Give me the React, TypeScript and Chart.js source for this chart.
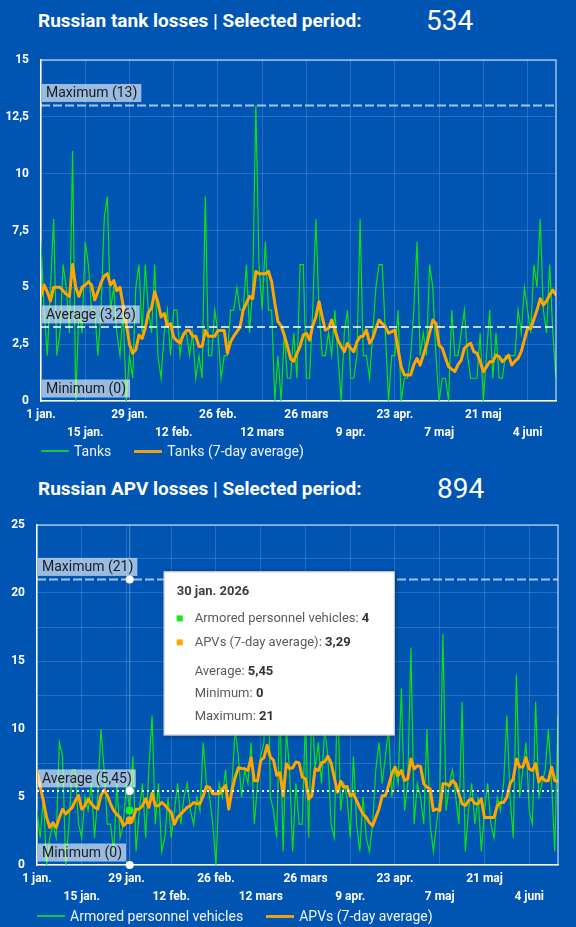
import React, { useEffect, useRef } from 'react';
import { Chart, registerables } from 'chart.js';

Chart.register(...registerables);

const BG = '#0055b3';
const GREEN = '#0fe00f';
const ORANGE = '#ffa500';
const GRID = 'rgba(255,255,255,0.15)';
const FONT = 'Roboto, "Noto Sans", sans-serif';

// x axis: day index from 1 jan. 2026
const xTickDays = [0, 14, 28, 42, 56, 70, 84, 98, 112, 126, 140, 154];
const xTickLabels = ['1 jan.', '15 jan.', '29 jan.', '12 feb.', '26 feb.', '12 mars', '26 mars', '9 apr.', '23 apr.', '7 maj', '21 maj', '4 juni'];

// ---- Tanks ----
const tankDaily = [
  7, 4, 2, 5, 8, 2, 3, 6, 5, 3,
  11, 0, 4, 3, 7, 6, 4, 4, 2, 4,
  8, 9, 4, 5, 3, 2, 4, 0, 2, 1,
  5, 6, 3, 6, 4, 3, 6, 2, 1, 3,
  4, 2, 4, 4, 2, 3, 3, 2, 3, 1,
  2, 1, 9, 2, 2, 4, 3, 1, 2, 2,
  4, 4, 5, 4, 4, 6, 3, 5, 13, 6,
  4, 7, 4, 4, 0, 2, 0, 3, 1, 1,
  3, 1, 6, 6, 1, 1, 4, 8, 4, 2,
  2, 3, 2, 4, 2, 0, 3, 4, 1, 1,
  2, 8, 2, 2, 1, 3, 5, 6, 6, 3,
  0, 2, 2, 4, 0, 1, 1, 2, 4, 7,
  2, 3, 2, 6, 5, 2, 0, 1, 1, 0,
  4, 2, 2, 3, 4, 2, 1, 1, 1, 3,
  0, 2, 4, 1, 3, 1, 1, 2, 2, 2,
  2, 4, 3, 5, 4, 3, 6, 5, 8, 4,
  3, 6, 3, 1,
];
const tankAvg7 = [
  4.6, 5.1, 4.8, 4.4, 5.0, 5.0, 5.0, 4.85, 4.7, 4.6,
  6.0, 5.0, 4.6, 5.0, 5.1, 5.25, 5.1, 4.45, 4.8, 5.2,
  5.5, 5.6, 5.1, 5.3, 4.85, 5.0, 4.2, 3.4, 2.5, 2.1,
  2.25, 2.9, 2.75, 3.2, 3.9, 4.1, 4.8, 4.35, 3.7, 3.85,
  3.3, 3.4, 2.8, 2.65, 2.55, 2.9, 3.1, 3.1, 2.85, 2.85,
  2.4, 2.4, 3.1, 2.85, 2.85, 2.85, 3.1, 3.1, 3.1, 2.1,
  2.6, 2.85, 3.05, 3.25, 4.0, 4.3, 4.6, 4.5, 5.7, 5.6,
  5.6, 5.6, 5.7, 5.25, 4.3, 3.5, 3.3, 2.9, 2.4, 1.85,
  1.75, 2.1, 2.4, 2.9, 2.98, 2.68, 3.3, 3.7, 4.37, 3.7,
  3.12, 3.2, 3.56, 3.12, 2.68, 2.4, 2.17, 2.54, 2.32, 2.17,
  2.6, 2.83, 2.86, 3.12, 2.54, 2.76, 3.2, 3.56, 3.4, 3.27,
  2.98, 3.05, 3.12, 2.3, 1.51, 1.14, 1.14, 1.14, 1.6, 1.87,
  1.58, 2.02, 2.46, 3.0, 3.56, 3.41, 2.46, 2.32, 1.9, 1.51,
  1.4, 1.29, 1.6, 1.8, 2.32, 2.45, 2.54, 2.17, 2.1, 1.73,
  1.29, 1.5, 1.73, 1.73, 2.02, 1.95, 1.73, 1.85, 2.02, 1.58,
  1.75, 1.87, 2.17, 2.7, 3.19, 3.19, 3.6, 4.0, 4.5, 4.22,
  4.4, 4.66, 4.88, 4.66,
];
const tankTotal = 534;
const tankAverage = 3.26;
const tankMin = 0;
const tankMax = 13;
const tankYMax = 15;

// ---- APVs ----
const apvDaily = [
  4, 2, 5, 0, 2, 3, 2, 9, 8, 0,
  3, 7, 7, 3, 2, 5, 4, 6, 2, 5,
  10, 7, 3, 3, 1, 6, 2, 3, 6, 4,
  8, 1, 4, 6, 2, 7, 11, 3, 6, 1,
  2, 5, 2, 4, 6, 3, 5, 6, 4, 3,
  5, 4, 9, 6, 5, 3, 0, 6, 5, 7,
  4, 6, 10, 8, 5, 7, 6, 9, 3, 6,
  8, 9, 21, 5, 4, 2, 12, 1, 10, 7,
  1, 6, 3, 3, 11, 2, 12, 7, 9, 6,
  10, 8, 3, 2, 13, 4, 6, 5, 2, 8,
  3, 1, 5, 2, 1, 3, 7, 9, 6, 8,
  10, 5, 7, 6, 13, 4, 6, 16, 3, 6,
  5, 3, 10, 3, 1, 3, 5, 17, 4, 6,
  7, 5, 3, 12, 1, 4, 6, 3, 5, 1,
  4, 6, 3, 2, 5, 4, 6, 11, 5, 2,
  14, 5, 7, 9, 4, 3, 12, 5, 6, 7,
  10, 6, 1, 11,
];
const apvAvg7 = [
  6.83, 5.8, 4.7, 3.5, 2.76, 3.1, 2.76, 3.5, 4.1, 3.75,
  4.0, 4.24, 4.73, 5.1, 4.1, 4.36, 4.86, 4.5, 4.24, 4.12,
  5.1, 5.52, 5.1, 4.5, 4.0, 3.7, 3.5, 2.9, 3.1, 3.29,
  3.4, 4.1, 4.12, 4.36, 4.86, 4.24, 5.28, 4.36, 4.36, 4.6,
  4.4, 4.12, 3.87, 3.0, 3.5, 3.75, 4.0, 4.24, 4.36, 4.6,
  4.5, 4.5, 5.1, 5.77, 5.7, 5.23, 5.23, 5.23, 5.6, 5.84,
  4.12, 5.47, 6.46, 7.15, 7.1, 7.07, 6.95, 7.89, 6.2, 6.2,
  7.7, 7.9, 8.8, 7.94, 7.7, 6.6, 6.8, 5.1, 7.45, 7.1,
  7.15, 7.57, 7.5, 6.46, 6.34, 4.86, 5.1, 7.07, 6.95, 7.5,
  7.6, 8.0, 7.5, 6.46, 5.35, 6.16, 5.72, 5.77, 5.1, 5.23,
  4.73, 4.2, 3.75, 3.5, 3.13, 2.88, 3.5, 4.12, 5.1, 5.1,
  5.84, 6.7, 7.2, 6.58, 6.95, 6.21, 6.34, 7.8, 7.07, 7.3,
  7.25, 5.97, 5.72, 5.6, 4.0, 4.12, 4.0, 5.97, 5.97, 5.84,
  6.2, 5.97, 5.23, 4.5, 4.36, 4.73, 4.86, 4.5, 4.5, 4.86,
  3.5, 3.5, 3.5, 3.5, 4.36, 4.6, 4.6, 4.98, 5.97, 6.34,
  7.8, 7.2, 7.2, 7.9, 7.07, 6.95, 7.45, 6.1, 6.46, 6.2,
  6.2, 7.2, 6.2, 6.16,
];
const apvTotal = 894;
const apvAverage = 5.45;
const apvMin = 0;
const apvMax = 21;
const apvYMax = 25;

// hovered day in the second chart
const hoverIndex = 29;
const hoverDateLabel = '30 jan. 2026';

const fmt = (v: number) => String(v).replace('.', ',');

const refPlugin = {
  id: 'refLines',
  afterDatasetsDraw(chart: any, _args: any, opts: any) {
    const { ctx, chartArea: a, scales } = chart;
    const ys = scales.y;
    ctx.save();
    ctx.setLineDash([]);
    ctx.strokeStyle = 'rgba(255,255,255,0.62)';
    ctx.lineWidth = 1.5;
    ctx.beginPath();
    ctx.moveTo(a.left, a.top);
    ctx.lineTo(a.right, a.top);
    ctx.lineTo(a.right, a.bottom);
    ctx.stroke();
    for (const l of opts.lines || []) {
      const py = ys.getPixelForValue(l.value);
      if (l.width > 0) {
        ctx.setLineDash(l.dash);
        ctx.strokeStyle = l.color;
        ctx.lineWidth = l.width;
        ctx.beginPath();
        ctx.moveTo(a.left, py);
        ctx.lineTo(a.right, py);
        ctx.stroke();
      }
      ctx.setLineDash([]);
      ctx.font = `14px ${FONT}`;
      const tw = ctx.measureText(l.label).width;
      const bh = 18;
      const bBottom = py - 3.5;
      ctx.fillStyle = 'rgba(255,255,255,0.6)';
      ctx.fillRect(a.left + 1, bBottom - bh, tw + 8, bh);
      ctx.fillStyle = '#1c1c1c';
      ctx.textBaseline = 'middle';
      ctx.textAlign = 'left';
      ctx.fillText(l.label, a.left + 5, bBottom - bh / 2 + 1);
    }
    ctx.restore();
  },
};

const hoverPlugin = {
  id: 'hoverTip',
  beforeDatasetsDraw(chart: any, _args: any, opts: any) {
    if (!opts || !opts.enabled) return;
    const { ctx, chartArea: a, scales } = chart;
    const px = scales.x.getPixelForValue(opts.index);
    ctx.save();
    ctx.strokeStyle = 'rgba(255,255,255,0.3)';
    ctx.lineWidth = 1;
    ctx.beginPath();
    ctx.moveTo(px, a.top);
    ctx.lineTo(px, a.bottom);
    ctx.stroke();
    ctx.restore();
  },
  afterDraw(chart: any, _args: any, opts: any) {
    if (!opts || !opts.enabled) return;
    const { ctx, scales } = chart;
    const xs = scales.x;
    const ys = scales.y;
    const px = xs.getPixelForValue(opts.index);
    const dot = (v: number, color: string) => {
      ctx.beginPath();
      ctx.arc(px, ys.getPixelForValue(v), 4, 0, Math.PI * 2);
      ctx.fillStyle = color;
      ctx.fill();
    };
    ctx.save();
    dot(opts.max, '#ffffff');
    dot(opts.average, '#ffffff');
    dot(opts.min, '#ffffff');
    dot(opts.daily, '#19f219');
    dot(opts.avg7, ORANGE);

    // tooltip box
    const left = px + 34;
    const top = ys.getPixelForValue(opts.max) - 8;
    const rows: [string, string][] = [
      [opts.dailyName + ': ', String(opts.daily)],
      [opts.avgName + ': ', fmt(opts.avg7)],
      ['Average: ', fmt(opts.average)],
      ['Minimum: ', String(opts.min)],
      ['Maximum: ', String(opts.max)],
    ];
    let maxW = 0;
    for (const [a, b] of rows) {
      ctx.font = `13px ${FONT}`;
      const w1 = ctx.measureText(a).width;
      ctx.font = `bold 13px ${FONT}`;
      const w2 = ctx.measureText(b).width;
      maxW = Math.max(maxW, w1 + w2);
    }
    const w = Math.round(31 + maxW + 25);
    const h = 164;
    ctx.save();
    ctx.shadowColor = 'rgba(0,0,0,0.35)';
    ctx.shadowBlur = 6;
    ctx.shadowOffsetX = 1;
    ctx.shadowOffsetY = 1;
    ctx.fillStyle = '#ffffff';
    ctx.fillRect(left, top, w, h);
    ctx.restore();
    ctx.strokeStyle = '#cccccc';
    ctx.lineWidth = 1;
    ctx.strokeRect(left + 0.5, top + 0.5, w - 1, h - 1);

    ctx.textBaseline = 'alphabetic';
    ctx.textAlign = 'left';
    ctx.font = `bold 13px ${FONT}`;
    ctx.fillStyle = '#3d3d3d';
    ctx.fillText(opts.dateLabel, left + 13, top + 24);

    ctx.fillStyle = '#11ee11';
    ctx.fillRect(left + 13, top + 44, 6, 6);
    ctx.fillStyle = ORANGE;
    ctx.fillRect(left + 13, top + 68, 6, 6);

    const baselines = [51, 75, 104, 126, 149];
    rows.forEach(([a, b], i) => {
      ctx.font = `13px ${FONT}`;
      ctx.fillStyle = '#5a5a5a';
      ctx.fillText(a, left + 31, top + baselines[i]);
      const w1 = ctx.measureText(a).width;
      ctx.font = `bold 13px ${FONT}`;
      ctx.fillStyle = '#333333';
      ctx.fillText(b, left + 31 + w1, top + baselines[i]);
    });
    ctx.restore();
  },
};

type ChartProps = {
  top: number;
  height: number;
  daily: number[];
  avg7: number[];
  dailyName: string;
  avgName: string;
  yMax: number;
  labelEvery: number;
  leftWidth: number;
  rightPad: number;
  lines: any[];
  hover?: any;
};

function LineChart(p: ChartProps) {
  const ref = useRef<HTMLCanvasElement>(null);
  useEffect(() => {
    const tickFont = { family: FONT, size: 12, weight: 'bold' as const };
    const chart = new Chart(ref.current as HTMLCanvasElement, {
      type: 'line',
      data: {
        datasets: [
          {
            label: p.avgName,
            data: p.avg7.map((v, i) => ({ x: i, y: v })),
            borderColor: ORANGE,
            borderWidth: 3,
            pointRadius: 0,
            tension: 0,
            order: 1,
            borderJoinStyle: 'round',
            borderCapStyle: 'round',
          },
          {
            label: p.dailyName,
            data: p.daily.map((v, i) => ({ x: i, y: v })),
            borderColor: GREEN,
            borderWidth: 1.2,
            pointRadius: 0,
            tension: 0,
            order: 2,
          },
        ],
      },
      options: {
        animation: false,
        responsive: true,
        maintainAspectRatio: false,
        events: [],
        layout: { padding: { top: 20, right: p.rightPad, left: 0, bottom: 0 } },
        plugins: {
          legend: { display: false },
          tooltip: { enabled: false },
          refLines: { lines: p.lines },
          hoverTip: p.hover || { enabled: false },
        } as any,
        scales: {
          x: {
            type: 'linear',
            min: 0,
            max: p.daily.length - 1,
            afterBuildTicks: (s: any) => {
              s.ticks = xTickDays.map((v) => ({ value: v }));
            },
            afterFit: (s: any) => {
              s.height = 44;
            },
            ticks: {
              autoSkip: false,
              maxRotation: 0,
              minRotation: 0,
              padding: 5,
              color: '#ffffff',
              font: { ...tickFont, lineHeight: 1.5 },
              callback: (v: any, i: number) => {
                const lbl = xTickLabels[xTickDays.indexOf(Number(v))] || '';
                return i % 2 === 0 ? [lbl, ''] : ['', lbl];
              },
            },
            grid: { color: GRID, drawTicks: false, lineWidth: 1 },
            border: { color: '#ffffff', width: 1.5 },
          },
          y: {
            min: 0,
            max: p.yMax,
            afterFit: (s: any) => {
              s.width = p.leftWidth;
            },
            ticks: {
              stepSize: 2.5,
              padding: 12,
              color: '#ffffff',
              font: tickFont,
              callback: (v: any) => (Number(v) % p.labelEvery === 0 ? fmt(Number(v)) : ''),
            },
            grid: { color: GRID, drawTicks: false, lineWidth: 1 },
            border: { color: '#ffffff', width: 1.5 },
          },
        },
      } as any,
      plugins: [refPlugin, hoverPlugin],
    });
    return () => chart.destroy();
  }, []);
  return (
    <div style={{ position: 'absolute', left: 0, top: p.top, width: 576, height: p.height }}>
      <canvas ref={ref} style={{ display: 'block' }} />
    </div>
  );
}

function Legend({ top, left, a, b }: { top: number; left: number; a: string; b: string }) {
  return (
    <div
      style={{
        position: 'absolute',
        top,
        left,
        display: 'flex',
        alignItems: 'center',
        height: 16,
        fontFamily: FONT,
        fontSize: 14,
        lineHeight: '16px',
        color: '#eef3fb',
        whiteSpace: 'nowrap',
      }}
    >
      <span style={{ display: 'inline-block', width: 28, height: 2, background: '#13c64a', marginRight: 5 }} />
      <span>{a}</span>
      <span style={{ display: 'inline-block', width: 28, height: 3, background: '#eaa21a', marginLeft: 23, marginRight: 5 }} />
      <span>{b}</span>
    </div>
  );
}

function Heading({ text, total, top, totalLeft }: { text: string; total: number; top: number; totalLeft: number }) {
  return (
    <>
      <div
        style={{
          position: 'absolute',
          left: 38,
          top,
          fontFamily: FONT,
          fontWeight: 700,
          fontSize: 19,
          lineHeight: '22px',
          color: '#ffffff',
          whiteSpace: 'nowrap',
        }}
      >
        {text}
      </div>
      <div
        style={{
          position: 'absolute',
          left: totalLeft,
          top: top - 5,
          fontFamily: FONT,
          fontWeight: 400,
          fontSize: 28,
          lineHeight: '32px',
          color: '#ffffff',
        }}
      >
        {total}
      </div>
    </>
  );
}

export default function App() {
  const tankLines = [
    { value: tankMax, label: `Maximum (${tankMax})`, color: 'rgba(255,255,255,0.65)', dash: [9, 3], width: 2 },
    { value: tankAverage, label: `Average (${fmt(tankAverage)})`, color: '#ffffff', dash: [8, 4], width: 1.5 },
    { value: tankMin, label: `Minimum (${tankMin})`, color: '#ffffff', dash: [], width: 0 },
  ];
  const apvLines = [
    { value: apvMax, label: `Maximum (${apvMax})`, color: 'rgba(255,255,255,0.65)', dash: [9, 3], width: 2 },
    { value: apvAverage, label: `Average (${fmt(apvAverage)})`, color: '#ffffff', dash: [2, 3], width: 2 },
    { value: apvMin, label: `Minimum (${apvMin})`, color: '#ffffff', dash: [], width: 0 },
  ];
  const hover = {
    enabled: true,
    index: hoverIndex,
    dateLabel: hoverDateLabel,
    daily: apvDaily[hoverIndex],
    avg7: apvAvg7[hoverIndex],
    dailyName: 'Armored personnel vehicles',
    avgName: 'APVs (7-day average)',
    average: apvAverage,
    min: apvMin,
    max: apvMax,
  };
  return (
    <div style={{ position: 'relative', width: 576, height: 927, background: BG, overflow: 'hidden' }}>
      <style>{`html,body{margin:0;padding:0;background:${BG};}`}</style>
      <Heading text="Russian tank losses | Selected period:" total={tankTotal} top={10} totalLeft={426} />
      <LineChart
        top={40}
        height={405}
        daily={tankDaily}
        avg7={tankAvg7}
        dailyName="Tanks"
        avgName="Tanks (7-day average)"
        yMax={tankYMax}
        labelEvery={2.5}
        leftWidth={41}
        rightPad={20}
        lines={tankLines}
      />
      <Legend top={443} left={41} a="Tanks" b="Tanks (7-day average)" />
      <Heading text="Russian APV losses | Selected period:" total={apvTotal} top={478} totalLeft={437} />
      <LineChart
        top={505}
        height={404}
        daily={apvDaily}
        avg7={apvAvg7}
        dailyName="Armored personnel vehicles"
        avgName="APVs (7-day average)"
        yMax={apvYMax}
        labelEvery={5}
        leftWidth={37}
        rightPad={18}
        lines={apvLines}
        hover={hover}
      />
      <Legend top={908} left={37} a="Armored personnel vehicles" b="APVs (7-day average)" />
    </div>
  );
}
